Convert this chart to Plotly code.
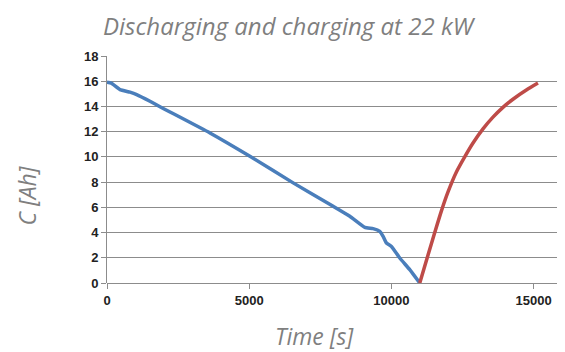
import plotly.graph_objects as go

# Discharging (blue)
dis_t = [0, 150, 457, 808, 1043, 1511, 1862, 3620, 5025, 6546, 7952, 8538, 9065, 9357, 9592, 9709, 9827, 10003, 10295, 10646, 10998]
dis_c = [15.92, 15.85, 15.34, 15.13, 14.94, 14.41, 13.98, 11.9, 10.05, 7.94, 6.08, 5.29, 4.41, 4.31, 4.1, 3.7, 3.17, 2.9, 1.98, 1.06, 0.0]

# Charging (red)
chg_t = [10998, 11289, 11525, 11760, 11992, 12287, 12579, 12871, 13222, 13573, 13924, 14276, 14746, 15155]
chg_c = [0.0, 2.22, 4.0, 5.72, 7.22, 8.8, 10.0, 11.1, 12.22, 13.15, 13.93, 14.57, 15.3, 15.85]

x_ticks = [0, 5000, 10000, 15000]
y_ticks = [0, 2, 4, 6, 8, 10, 12, 14, 16, 18]

title_text = "Discharging and charging at 22 kW"
x_title = "Time [s]"
y_title = "C [Ah]"

fig = go.Figure()
fig.add_trace(go.Scatter(x=dis_t, y=dis_c, mode="lines",
                         line=dict(color="#4a7ebb", width=3.5, shape="spline", smoothing=0.4)))
fig.add_trace(go.Scatter(x=chg_t, y=chg_c, mode="lines",
                         line=dict(color="#be4b48", width=3.5, shape="spline", smoothing=0.8)))

grid = "#8c8c8c"
tfont = dict(family="Open Sans", size=23, color="#7f7f7f", style="italic")
fig.update_layout(
    width=565, height=352,
    margin=dict(l=99, r=11, t=48, b=77),
    paper_bgcolor="white", plot_bgcolor="white",
    showlegend=False,
    annotations=[
        dict(text=title_text, xref="paper", yref="paper", x=0.40, y=1.135,
             xanchor="center", yanchor="middle", showarrow=False,
             font=dict(family="Open Sans", size=24, color="#7f7f7f", style="italic")),
        dict(text=x_title, xref="paper", yref="paper", x=0.455, y=-0.232,
             xanchor="center", yanchor="middle", showarrow=False, font=tfont),
        dict(text=y_title, xref="paper", yref="paper", x=-0.176, y=0.385,
             xanchor="center", yanchor="middle", showarrow=False, font=tfont, textangle=-90),
    ],
)
fig.update_xaxes(range=[0, 16000], tickvals=x_ticks, ticktext=[str(v) for v in x_ticks],
                 showgrid=False, zeroline=False, showline=False, automargin=False,
                 ticks="outside", ticklen=5, tickcolor=grid, tickwidth=1,
                 tickfont=dict(family="Liberation Sans", size=13, color="#222222", weight="bold"))
fig.update_yaxes(range=[0, 18], tickvals=y_ticks, ticktext=[str(v) for v in y_ticks],
                 showgrid=True, gridcolor=grid, gridwidth=1, automargin=False,
                 zeroline=True, zerolinecolor=grid, zerolinewidth=1,
                 showline=True, linecolor=grid, linewidth=1,
                 ticks="outside", ticklen=5, tickcolor=grid, tickwidth=1,
                 tickfont=dict(family="Liberation Sans", size=13, color="#222222", weight="bold"))

fig.write_html("out.html")
